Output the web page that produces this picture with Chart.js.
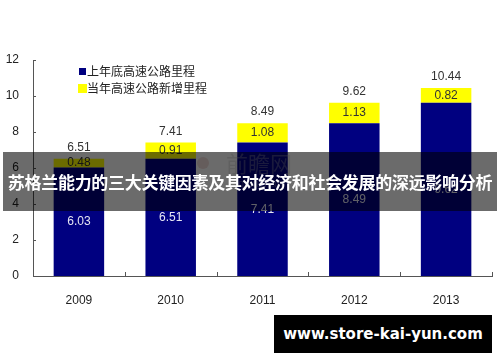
<!DOCTYPE html>
<html>
<head>
<meta charset="utf-8">
<script src="https://cdn.jsdelivr.net/npm/chart.js@4.4.1/dist/chart.umd.min.js"></script>
<style>
  html, body { margin: 0; padding: 0; background: #fff; }
  #wrap { position: relative; width: 500px; height: 362px; overflow: hidden; }
  #band {
    position: absolute; left: 3px; top: 152px; width: 494px; height: 59px;
    background: rgba(0,0,0,0.58); color: #fff;
    font: bold 17px "Noto Sans CJK SC", sans-serif;
    display: flex; align-items: center; justify-content: center;
    white-space: nowrap; letter-spacing: -0.3px;
  }
  #url {
    position: absolute; left: 274px; top: 315px; width: 218px; height: 38px;
    background: #000; color: #fff;
    font: bold 15px "DejaVu Sans", sans-serif;
    display: flex; align-items: center; justify-content: center;
  }
</style>
</head>
<body>
<div id="wrap">
  <canvas id="c" width="500" height="362"></canvas>
  <div id="band">苏格兰能力的三大关键因素及其对经济和社会发展的深远影响分析</div>
  <div id="url">www.store-kai-yun.com</div>
</div>
<script>
// data
const years = ['2009', '2010', '2011', '2012', '2013'];
const lastYearEnd = [6.03, 6.51, 7.41, 8.49, 9.62];
const newThisYear = [0.48, 0.91, 1.08, 1.13, 0.82];
const totals = [6.51, 7.41, 8.49, 9.62, 10.44];
const seriesNames = ['上年底高速公路里程', '当年高速公路新增里程'];

const FONT = 'Arial, "Liberation Sans", "Noto Sans CJK SC", sans-serif';

// labels, inward ticks, legend and faint watermark
const extras = {
  id: 'extras',
  afterDatasetsDraw(chart) {
    const ctx = chart.ctx;
    const area = chart.chartArea;
    const xs = chart.scales.x, ys = chart.scales.y;
    ctx.save();
    ctx.strokeStyle = '#555';
    ctx.lineWidth = 1;
    // y ticks pointing right
    ys.ticks.forEach(t => {
      const y = Math.round(ys.getPixelForValue(t.value)) + 0.5;
      ctx.beginPath(); ctx.moveTo(area.left, y); ctx.lineTo(area.left + 3, y); ctx.stroke();
    });
    // x ticks at category edges pointing up
    for (let i = 0; i <= years.length; i++) {
      const x = Math.round(xs.getPixelForValue(i - 0.5)) + 0.5;
      ctx.beginPath(); ctx.moveTo(x, area.bottom); ctx.lineTo(x, area.bottom - 4); ctx.stroke();
    }

    // watermark
    ctx.fillStyle = 'rgba(200,120,110,0.25)';
    ctx.beginPath(); ctx.arc(203, 163, 6, 0, Math.PI * 2); ctx.fill();
    ctx.fillStyle = 'rgba(180,180,180,0.35)';
    ctx.font = '22px "Noto Sans CJK SC", sans-serif';
    ctx.textAlign = 'left';
    ctx.textBaseline = 'middle';
    ctx.fillText('前瞻网', 226, 164);
    ctx.font = '11px ' + FONT;
    ctx.fillText('qianzhan', 238, 184);

    ctx.font = '12px ' + FONT;
    ctx.textAlign = 'center';
    const m0 = chart.getDatasetMeta(0).data;
    const m1 = chart.getDatasetMeta(1).data;
    m0.forEach((bar, i) => {
      ctx.fillStyle = '#e6e6f2';
      ctx.fillText(lastYearEnd[i].toFixed(2), bar.x, (bar.y + bar.base) / 2);
    });
    m1.forEach((bar, i) => {
      ctx.fillStyle = '#333';
      ctx.fillText(newThisYear[i].toFixed(2), bar.x, (bar.y + bar.base) / 2);
      ctx.fillText(totals[i].toFixed(2), bar.x, bar.y - 11);
    });

    // legend
    const colors = ['#000080', '#ffff00'];
    const boxes = [[79, 68, 7, 7], [78, 84, 9, 9]];
    seriesNames.forEach((name, i) => {
      const b = boxes[i];
      ctx.fillStyle = colors[i];
      ctx.fillRect(b[0], b[1], b[2], b[3]);
      ctx.fillStyle = '#222';
      ctx.textAlign = 'left';
      ctx.font = '12px "Noto Sans CJK SC", sans-serif';
      ctx.fillText(name, 87, b[1] + b[3] / 2);
    });
    ctx.restore();
  }
};

new Chart(document.getElementById('c'), {
  type: 'bar',
  data: {
    labels: years,
    datasets: [
      { label: seriesNames[0], data: lastYearEnd, backgroundColor: '#000080' },
      { label: seriesNames[1], data: newThisYear, backgroundColor: '#ffff00' }
    ]
  },
  options: {
    responsive: false,
    animation: false,
    layout: { padding: { top: 60, right: 8, left: 0, bottom: 0 } },
    datasets: { bar: { categoryPercentage: 1, barPercentage: 0.55 } },
    plugins: { legend: { display: false }, tooltip: { enabled: false } },
    scales: {
      x: {
        stacked: true,
        grid: { display: false },
        border: { display: true, color: '#555' },
        ticks: { color: '#222', font: { size: 12, family: FONT }, padding: 9 },
        afterFit(s) { s.height = 86; }
      },
      y: {
        stacked: true,
        min: 0, max: 12,
        grid: { display: false, drawTicks: false },
        border: { display: true, color: '#555' },
        ticks: { stepSize: 2, color: '#222', font: { size: 12, family: FONT }, padding: 14 },
        afterFit(s) { s.width = 33; }
      }
    }
  },
  plugins: [extras]
});
</script>
</body>
</html>
